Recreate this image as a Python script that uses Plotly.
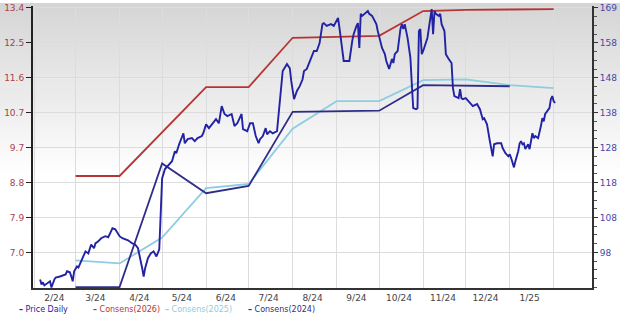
import numpy as np
import plotly.graph_objects as go

# ---------------- data ----------------
price_dates = ["2024-02-05","2024-02-06","2024-02-07","2024-02-08","2024-02-12","2024-02-13","2024-02-15","2024-02-16",
"2024-02-19","2024-02-21","2024-02-23","2024-02-24","2024-02-26","2024-02-27","2024-02-28","2024-02-29","2024-03-02",
"2024-03-03","2024-03-05","2024-03-07","2024-03-08","2024-03-10","2024-03-11","2024-03-12","2024-03-14","2024-03-15",
"2024-03-17","2024-03-19","2024-03-22","2024-03-24","2024-03-26","2024-03-27","2024-03-29","2024-03-31","2024-04-01",
"2024-04-03","2024-04-05","2024-04-07","2024-04-10","2024-04-12","2024-04-14","2024-04-15","2024-04-17","2024-04-18",
"2024-04-19","2024-04-21","2024-04-23","2024-04-25","2024-04-27","2024-04-29","2024-04-30","2024-05-01","2024-05-03",
"2024-05-05","2024-05-08","2024-05-10","2024-05-11","2024-05-13","2024-05-16","2024-05-17","2024-05-19","2024-05-22",
"2024-05-24","2024-05-26","2024-05-29","2024-05-30","2024-06-01","2024-06-03","2024-06-05","2024-06-08","2024-06-10",
"2024-06-12","2024-06-14","2024-06-16","2024-06-19","2024-06-21","2024-06-23","2024-06-26","2024-06-27","2024-06-30",
"2024-07-02","2024-07-04","2024-07-06","2024-07-08","2024-07-09","2024-07-11","2024-07-13","2024-07-14","2024-07-16",
"2024-07-18","2024-07-21","2024-07-22","2024-07-24","2024-07-25","2024-07-28","2024-07-30","2024-07-31","2024-08-01",
"2024-08-02","2024-08-04","2024-08-06","2024-08-08","2024-08-09","2024-08-11","2024-08-14","2024-08-16","2024-08-18",
"2024-08-20","2024-08-22","2024-08-23","2024-08-25","2024-08-28","2024-08-30","2024-09-02","2024-09-03","2024-09-04",
"2024-09-05","2024-09-06","2024-09-09","2024-09-10","2024-09-12","2024-09-13","2024-09-15","2024-09-16","2024-09-17",
"2024-09-18","2024-09-19","2024-09-21","2024-09-23","2024-09-24","2024-09-26","2024-09-29","2024-09-30","2024-10-03",
"2024-10-05","2024-10-06","2024-10-08","2024-10-10","2024-10-11","2024-10-12","2024-10-14","2024-10-16","2024-10-17",
"2024-10-18","2024-10-19","2024-10-21","2024-10-23","2024-10-24","2024-10-25","2024-10-27","2024-10-28","2024-10-29",
"2024-10-30","2024-10-31","2024-11-01","2024-11-04","2024-11-06","2024-11-07","2024-11-08","2024-11-09","2024-11-10",
"2024-11-12","2024-11-13","2024-11-14","2024-11-16","2024-11-17","2024-11-19","2024-11-21","2024-11-22","2024-11-23",
"2024-11-26","2024-11-27","2024-11-28","2024-11-29","2024-12-01","2024-12-03","2024-12-04","2024-12-06","2024-12-09",
"2024-12-11","2024-12-13","2024-12-14","2024-12-16","2024-12-17","2024-12-18","2024-12-20","2024-12-21","2024-12-23",
"2024-12-26","2024-12-27","2024-12-29","2024-12-31","2025-01-01","2025-01-02","2025-01-03","2025-01-04","2025-01-05",
"2025-01-07","2025-01-08","2025-01-09","2025-01-10","2025-01-11","2025-01-12","2025-01-14","2025-01-15","2025-01-16",
"2025-01-17","2025-01-18","2025-01-19","2025-01-21","2025-01-22","2025-01-23","2025-01-24","2025-01-25","2025-01-26",
"2025-01-28","2025-01-29","2025-01-30","2025-01-31","2025-02-01","2025-02-02"]
price_values = [90.1,88.7,89.3,88.4,89.6,87.8,90.1,90.7,
91.0,91.3,91.6,92.5,92.2,91.0,89.6,92.5,93.9,
93.6,95.4,97.1,98.3,97.7,98.9,100.3,99.2,100.6,
101.2,102.1,102.7,102.4,104.1,105.0,104.7,103.2,102.7,
102.1,101.8,101.5,100.6,100.3,99.2,97.4,93.3,91.0,
93.3,96.3,97.7,98.3,96.8,98.9,108.5,119.5,122.2,
123.0,124.5,127.4,126.8,129.4,132.6,129.7,130.9,131.2,
130.3,131.2,131.8,132.6,135.2,134.1,135.2,136.7,135.5,
140.5,138.2,137.6,138.2,134.7,135.5,138.2,133.8,133.2,
135.5,135.5,131.8,129.7,130.9,131.8,134.1,132.3,133.2,
132.6,133.2,137.6,145.7,150.7,152.7,151.5,147.8,144.9,
142.5,144.9,146.3,148.3,150.7,151.3,154.2,156.5,156.5,
158.8,164.3,164.6,163.8,164.3,163.8,166.1,163.2,159.4,
155.6,153.6,153.6,153.6,159.4,161.4,163.8,164.6,157.4,
167.3,166.7,167.5,168.1,167.3,166.7,164.3,162.3,157.4,
155.6,153.6,151.3,154.2,153.0,155.6,156.5,162.9,164.3,
162.9,164.3,160.3,154.5,146.9,139.9,139.6,139.9,162.3,
162.9,155.6,156.5,160.3,165.2,168.7,161.4,168.1,167.3,
166.7,167.3,164.3,162.3,155.6,154.2,153.0,145.7,143.4,
142.8,145.4,142.8,142.5,142.8,141.9,141.4,140.5,141.1,
139.6,136.7,137.0,135.2,133.2,130.3,125.9,129.4,129.7,
129.7,128.3,126.8,125.9,126.5,125.4,123.6,122.7,124.5,
127.4,129.7,130.3,129.4,129.7,128.0,129.4,128.0,130.3,
132.6,131.2,131.8,131.2,132.6,134.7,137.0,136.1,138.2,
139.6,139.9,142.5,143.4,141.9,141.4]

cons2026_dates = ["2024-03-01","2024-04-01","2024-06-01","2024-07-01","2024-08-01","2024-10-01","2024-11-01","2024-12-01","2025-01-01","2025-02-01"]
cons2026_values = [9.0, 9.0, 11.33, 11.33, 12.62, 12.67, 13.32, 13.35, 13.36, 13.37]

cons2025_dates = ["2024-03-01","2024-04-01","2024-05-01","2024-06-01","2024-07-01","2024-08-01","2024-09-01","2024-10-01","2024-11-01","2024-12-01","2025-01-01","2025-02-01"]
cons2025_values = [6.79, 6.71, 7.39, 8.68, 8.79, 10.24, 10.96, 10.96, 11.51, 11.53, 11.38, 11.30]

cons2024_dates = ["2024-03-01","2024-04-01","2024-05-01","2024-06-01","2024-07-01","2024-08-01","2024-10-01","2024-11-01","2025-01-01"]
cons2024_values = [6.09, 6.09, 9.33, 8.55, 8.74, 10.68, 10.71, 11.38, 11.35]

left_tick_labels = ["7.0","7.9","8.8","9.7","10.7","11.6","12.5","13.4"]
right_tick_labels = ["98","108","118","128","138","148","158","169"]
x_tick_labels = ["2/24","3/24","4/24","5/24","6/24","7/24","8/24","9/24","10/24","11/24","12/24","1/25"]
x_tick_dates = ["2024-02-15","2024-03-15","2024-04-15","2024-05-15","2024-06-15","2024-07-15","2024-08-15",
                "2024-09-15","2024-10-15","2024-11-15","2024-12-15","2025-01-15"]
month_starts = ["2024-02-01","2024-03-01","2024-04-01","2024-05-01","2024-06-01","2024-07-01","2024-08-01",
                "2024-09-01","2024-10-01","2024-11-01","2024-12-01","2025-01-01","2025-02-01"]

series_names = ["Price Daily", "Consens(2026)", "Consens(2025)", "Consens(2024)"]

# ---------------- styles ----------------
C_PRICE = "#2222a4"
C_2026 = "#b83434"
C_2025 = "#8ecde0"
C_2024 = "#2e2e8a"

W, H = 620, 322
ML, MR, MT, MB = 33, 28, 3, 34

left_lo, left_hi = 7.0, 13.4
right_lo, right_hi = 98.0, 169.0
left_vals = np.linspace(left_lo, left_hi, len(left_tick_labels))
right_vals = np.linspace(right_lo, right_hi, len(right_tick_labels))
scale = (right_hi - right_lo) / (left_hi - left_lo)
yl_range = [6.067, 13.452]
yr_range = [right_lo + (v - left_lo) * scale for v in yl_range]
step_r = right_vals[1] - right_vals[0]
minor_r = [v for v in np.arange(right_lo - 2 * step_r, right_hi + step_r, step_r / 4)
           if yr_range[0] <= v <= yr_range[1]]

fig = go.Figure()
fig.add_trace(go.Scatter(x=cons2025_dates, y=cons2025_values, mode="lines", name=series_names[2],
                         line=dict(color=C_2025, width=1.8), showlegend=False, yaxis="y"))
fig.add_trace(go.Scatter(x=cons2024_dates, y=cons2024_values, mode="lines", name=series_names[3],
                         line=dict(color=C_2024, width=1.8), showlegend=False, yaxis="y"))
fig.add_trace(go.Scatter(x=cons2026_dates, y=cons2026_values, mode="lines", name=series_names[1],
                         line=dict(color=C_2026, width=1.8), showlegend=False, yaxis="y"))
fig.add_trace(go.Scatter(x=price_dates, y=price_values, mode="lines", name=series_names[0],
                         line=dict(color=C_PRICE, width=1.9), showlegend=False, yaxis="y2"))

# background gradient bands
shapes = []
nb = 44
band_h = 176.0 / nb
for i in range(nb):
    t = i / (nb - 1)
    c = int(round(213 + (255 - 213) * t))
    y0 = H - i * band_h
    y1 = H - (i + 1) * band_h - 0.6
    shapes.append(dict(type="rect", xref="paper", yref="paper",
                       x0=-ML / (W - ML - MR), x1=1 + MR / (W - ML - MR),
                       y0=(y1 - MB) / (H - MT - MB), y1=(y0 - MB) / (H - MT - MB),
                       fillcolor=f"rgb({c},{c},{c})", line=dict(width=0), layer="below"))

# legend as text
pw = W - ML - MR
ph = H - MT - MB
leg_y = (H - MB - 310) / ph
leg_items = [(series_names[0], C_PRICE, 17), (series_names[1], C_2026, 91),
             (series_names[2], C_2025, 163), (series_names[3], C_2024, 246)]
annotations = []
for name, col, px in leg_items:
    annotations.append(dict(xref="paper", yref="paper", x=(px - ML) / pw, y=leg_y,
                            xanchor="left", yanchor="middle", showarrow=False,
                            text=f"<b>\u2013</b> {name}",
                            font=dict(family="DejaVu Sans", size=8, color=col)))

fig.update_layout(
    width=W, height=H,
    margin=dict(l=ML, r=MR, t=MT, b=MB),
    paper_bgcolor="white",
    plot_bgcolor="rgba(0,0,0,0)",
    shapes=shapes,
    annotations=annotations,
    showlegend=False,
    font=dict(family="DejaVu Sans", size=9, color="#444"),
    xaxis=dict(type="date", range=["2024-01-31", "2025-02-28"],
               tickmode="array", tickvals=x_tick_dates, ticktext=x_tick_labels,
               showgrid=False, ticks="", showline=True, linecolor="#333", linewidth=2,
               tickfont=dict(size=9, color="#444"),
               minor=dict(tickmode="array", tickvals=month_starts, showgrid=True,
                          gridcolor="#dcdcdc", gridwidth=1, ticks=""),
               zeroline=False),
    yaxis=dict(range=yl_range, tickmode="array", tickvals=left_vals, ticktext=left_tick_labels,
               showgrid=True, gridcolor="#dcdcdc", gridwidth=1,
               showline=True, linecolor="#222", linewidth=2,
               ticks="outside", ticklen=5, tickcolor="#222", tickwidth=1,
               tickfont=dict(size=9, color="#a8404e"), zeroline=False),
    yaxis2=dict(range=yr_range, overlaying="y", side="right", tickmode="array",
                tickvals=right_vals, ticktext=right_tick_labels,
                showgrid=False, showline=True, linecolor="#333", linewidth=2,
                ticks="outside", ticklen=4, tickcolor="#333",
                minor=dict(tickmode="array", tickvals=minor_r, ticks="outside", ticklen=3, tickcolor="#555"),
                tickfont=dict(size=9, color="#4646a8"), zeroline=False),
)

fig.write_html("out.html")
